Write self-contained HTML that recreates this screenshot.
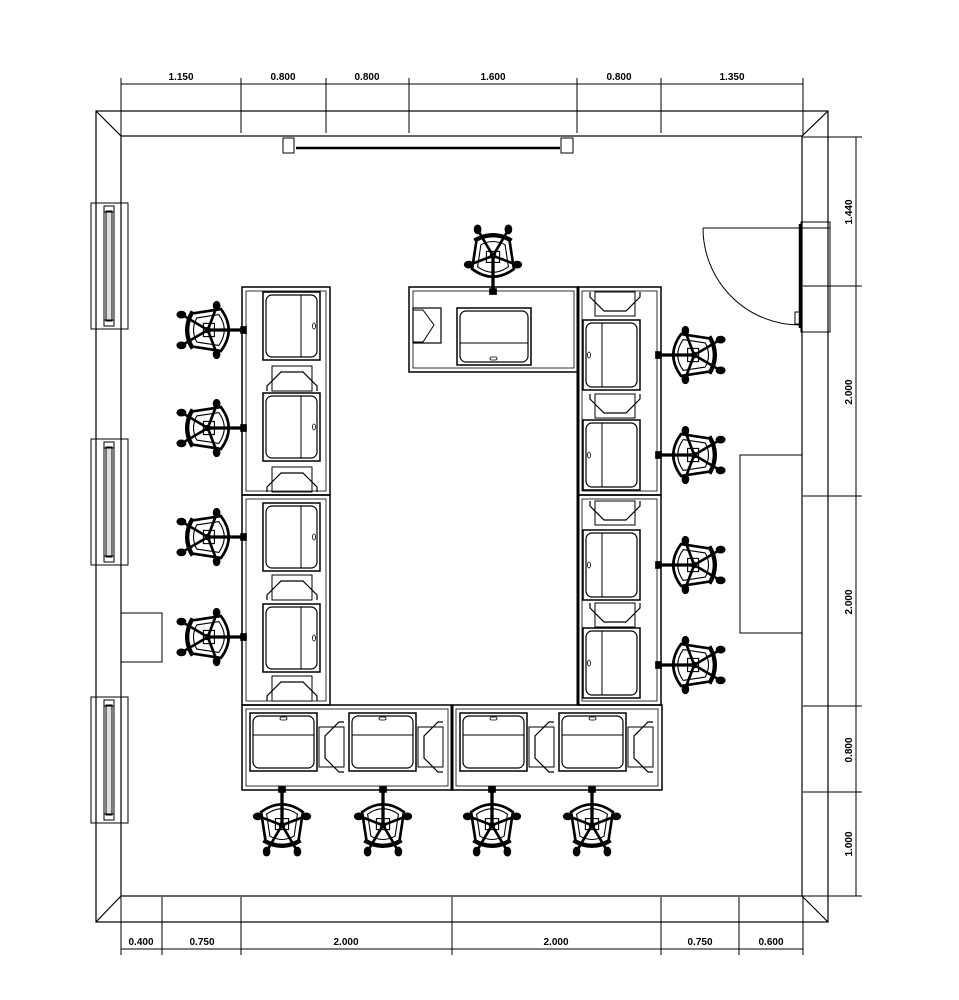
<!DOCTYPE html>
<html><head><meta charset="utf-8"><style>
html,body{margin:0;padding:0;background:#fff;}
svg{display:block;}
text{font-family:"Liberation Sans",sans-serif;font-size:10px;font-weight:bold;fill:#000;}
</style></head><body>
<svg width="959" height="1000" viewBox="0 0 959 1000" xmlns="http://www.w3.org/2000/svg">
<defs>
<g id="chair" stroke="#000" fill="none">
  <line x1="0" y1="-30" x2="0" y2="0" stroke-width="3"/>
  <rect x="-3" y="-33" width="6" height="5" fill="#000"/>
  <path d="M-19,-10 Q0,-24 19,-10 L15,16 Q0,24 -15,16 Z" stroke-width="2.4"/>
  <path d="M-14,-8 Q0,-18 14,-8 L11,12 Q0,18 -11,12 Z" stroke-width="1"/>
  <rect x="-6" y="-4" width="12" height="10" stroke-width="1"/>
  <path d="M-17,16 Q0,26 17,16" stroke-width="3.5"/>
  <g stroke-width="2.4" stroke-linecap="round">
    <line x1="0" y1="2" x2="-21" y2="-6"/><line x1="0" y1="2" x2="21" y2="-6"/>
    <line x1="0" y1="2" x2="-13" y2="24"/><line x1="0" y1="2" x2="13" y2="24"/>
  </g>
  <g fill="#000" stroke="none">
    <ellipse cx="-22" cy="-6" rx="4.5" ry="3.5"/><ellipse cx="22" cy="-6" rx="4.5" ry="3.5"/>
    <ellipse cx="-14" cy="26" rx="3.5" ry="4.5"/><ellipse cx="14" cy="26" rx="3.5" ry="4.5"/>
    <circle cx="0" cy="2" r="3"/>
  </g>
</g>
<g id="monV" stroke="#000" fill="none">
  <rect x="0" y="0" width="57" height="68" stroke-width="1.5"/>
  <rect x="3" y="3" width="51" height="62" rx="6" stroke-width="1.2"/>
  <line x1="38" y1="3" x2="38" y2="65" stroke-width="1"/>
  <ellipse cx="51" cy="34" rx="1.5" ry="3" stroke-width="0.8"/>
</g>
<g id="monVr" stroke="#000" fill="none">
  <rect x="0" y="0" width="57" height="70" stroke-width="1.5"/>
  <rect x="3" y="3" width="51" height="64" rx="6" stroke-width="1.2"/>
  <line x1="19" y1="3" x2="19" y2="67" stroke-width="1"/>
  <ellipse cx="6" cy="35" rx="1.5" ry="3" stroke-width="0.8"/>
</g>
<g id="monH" stroke="#000" fill="none">
  <rect x="0" y="0" width="67" height="58" stroke-width="1.5"/>
  <rect x="3" y="3" width="61" height="52" rx="6" stroke-width="1.2"/>
  <line x1="3" y1="22" x2="64" y2="22" stroke-width="1"/>
  <rect x="30" y="4" width="7" height="3" rx="1.5" stroke-width="0.8"/>
</g>
<g id="cpuV" stroke="#000" fill="none" stroke-width="1">
  <rect x="5" y="0" width="40" height="25"/>
  <path d="M0,25 L0,20 L14,6 L36,6 L50,20 L50,25" stroke-width="1.2"/>
</g>
<g id="cpuVd" stroke="#000" fill="none" stroke-width="1">
  <rect x="5" y="0" width="40" height="24"/>
  <path d="M0,0 L0,5 L14,19 L36,19 L50,5 L50,0" stroke-width="1.2"/>
</g>
<g id="cpuH" stroke="#000" fill="none" stroke-width="1">
  <rect x="0" y="5" width="25" height="40"/>
  <path d="M25,0 L20,0 L6,14 L6,36 L20,50 L25,50" stroke-width="1.2"/>
</g>
<g id="win" stroke="#000" fill="none">
  <rect x="0" y="0" width="37" height="126" stroke-width="1"/>
  <rect x="13" y="3" width="10" height="120" stroke-width="1"/>
  <rect x="15" y="8" width="6" height="110" stroke-width="1" fill="#ddd"/>
  <rect x="13" y="3" width="10" height="6" stroke-width="1"/>
  <rect x="13" y="117" width="10" height="6" stroke-width="1"/>
</g>
</defs>

<g stroke="#000" fill="none" stroke-width="1.2">
  <rect x="96" y="111" width="732" height="811"/>
  <rect x="121" y="136" width="681" height="760"/>
  <line x1="96" y1="111" x2="121" y2="136"/>
  <line x1="828" y1="111" x2="802" y2="136"/>
  <line x1="96" y1="922" x2="121" y2="896"/>
  <line x1="828" y1="922" x2="802" y2="896"/>
</g>

<g stroke="#000" stroke-width="1">
  <line x1="121" y1="84" x2="803" y2="84"/>
  <line x1="121" y1="78" x2="121" y2="136"/>
  <line x1="241" y1="78" x2="241" y2="133"/>
  <line x1="326" y1="78" x2="326" y2="133"/>
  <line x1="409" y1="78" x2="409" y2="133"/>
  <line x1="577" y1="78" x2="577" y2="133"/>
  <line x1="661" y1="78" x2="661" y2="133"/>
  <line x1="803" y1="78" x2="803" y2="136"/>
</g>
<text x="181" y="80" text-anchor="middle">1.150</text>
<text x="283" y="80" text-anchor="middle">0.800</text>
<text x="367" y="80" text-anchor="middle">0.800</text>
<text x="493" y="80" text-anchor="middle">1.600</text>
<text x="619" y="80" text-anchor="middle">0.800</text>
<text x="732" y="80" text-anchor="middle">1.350</text>

<g stroke="#000" stroke-width="1">
  <line x1="121" y1="949" x2="803" y2="949"/>
  <line x1="121" y1="897" x2="121" y2="955"/>
  <line x1="162" y1="897" x2="162" y2="955"/>
  <line x1="241" y1="897" x2="241" y2="955"/>
  <line x1="452" y1="897" x2="452" y2="955"/>
  <line x1="661" y1="897" x2="661" y2="955"/>
  <line x1="739" y1="897" x2="739" y2="955"/>
  <line x1="803" y1="897" x2="803" y2="955"/>
</g>
<text x="141" y="945" text-anchor="middle">0.400</text>
<text x="202" y="945" text-anchor="middle">0.750</text>
<text x="346" y="945" text-anchor="middle">2.000</text>
<text x="556" y="945" text-anchor="middle">2.000</text>
<text x="700" y="945" text-anchor="middle">0.750</text>
<text x="771" y="945" text-anchor="middle">0.600</text>

<g stroke="#000" stroke-width="1">
  <line x1="856" y1="137" x2="856" y2="896"/>
  <line x1="802" y1="137" x2="862" y2="137"/>
  <line x1="803" y1="286" x2="862" y2="286"/>
  <line x1="803" y1="496" x2="862" y2="496"/>
  <line x1="803" y1="706" x2="862" y2="706"/>
  <line x1="803" y1="792" x2="862" y2="792"/>
  <line x1="802" y1="896" x2="862" y2="896"/>
</g>
<text transform="translate(852,212) rotate(-90)" text-anchor="middle">1.440</text>
<text transform="translate(852,392) rotate(-90)" text-anchor="middle">2.000</text>
<text transform="translate(852,602) rotate(-90)" text-anchor="middle">2.000</text>
<text transform="translate(852,750) rotate(-90)" text-anchor="middle">0.800</text>
<text transform="translate(852,844) rotate(-90)" text-anchor="middle">1.000</text>

<g stroke="#000" fill="none" stroke-width="1">
  <rect x="283" y="138" width="11" height="15"/>
  <rect x="561" y="138" width="12" height="15"/>
  <line x1="296" y1="148" x2="560" y2="148" stroke-width="2.5"/>
</g>

<use href="#win" x="91" y="203"/>
<use href="#win" x="91" y="439"/>
<use href="#win" x="91" y="697"/>
<rect x="121" y="613" width="41" height="49" fill="none" stroke="#000" stroke-width="1"/>

<rect x="740" y="455" width="62" height="178" fill="none" stroke="#000" stroke-width="1"/>

<g stroke="#000" fill="none" stroke-width="1">
  <rect x="801" y="222" width="29" height="110"/>
  <line x1="801" y1="228" x2="830" y2="228"/>
  <line x1="800" y1="224" x2="800" y2="328" stroke-width="2.5"/>
  <line x1="703" y1="228" x2="800" y2="228"/>
  <path d="M703,228 A97,97 0 0 0 800,325"/>
  <rect x="795" y="312" width="7" height="12"/>
</g>

<g stroke="#000" fill="none">
  <rect x="242" y="287" width="88" height="208" stroke-width="1.5"/>
  <rect x="246" y="291" width="80" height="200" stroke-width="0.8"/>
  <rect x="242" y="495" width="88" height="210" stroke-width="1.5"/>
  <rect x="246" y="499" width="80" height="202" stroke-width="0.8"/>
  <rect x="578" y="287" width="83" height="208" stroke-width="1.5"/>
  <rect x="582" y="291" width="75" height="200" stroke-width="0.8"/>
  <rect x="578" y="495" width="83" height="210" stroke-width="1.5"/>
  <rect x="582" y="499" width="75" height="202" stroke-width="0.8"/>
  <line x1="578" y1="287" x2="578" y2="705" stroke-width="3"/>
  <rect x="242" y="705" width="210" height="85" stroke-width="1.5"/>
  <rect x="246" y="709" width="202" height="77" stroke-width="0.8"/>
  <rect x="452" y="705" width="210" height="85" stroke-width="1.5"/>
  <rect x="456" y="709" width="202" height="77" stroke-width="0.8"/>
  <line x1="452" y1="705" x2="452" y2="790" stroke-width="3"/>
  <rect x="409" y="287" width="169" height="85" stroke-width="1.5"/>
  <rect x="413" y="291" width="161" height="77" stroke-width="0.8"/>
</g>

<use href="#monV" x="263" y="292"/>
<use href="#cpuV" x="267" y="366"/>
<use href="#monV" x="263" y="393"/>
<use href="#cpuV" x="267" y="467"/>
<use href="#monV" x="263" y="503"/>
<use href="#cpuV" x="267" y="575"/>
<use href="#monV" x="263" y="604"/>
<use href="#cpuV" x="267" y="676"/>

<use href="#cpuVd" x="590" y="292"/>
<use href="#monVr" x="583" y="320"/>
<use href="#cpuVd" x="590" y="394"/>
<use href="#monVr" x="583" y="420"/>
<use href="#cpuVd" x="590" y="501"/>
<use href="#monVr" x="583" y="530"/>
<use href="#cpuVd" x="590" y="603"/>
<use href="#monVr" x="583" y="628"/>

<use href="#monH" x="250" y="713"/>
<use href="#cpuH" x="319" y="722"/>
<use href="#monH" x="349" y="713"/>
<use href="#cpuH" x="418" y="722"/>
<use href="#monH" x="460" y="713"/>
<use href="#cpuH" x="529" y="722"/>
<use href="#monH" x="559" y="713"/>
<use href="#cpuH" x="628" y="722"/>

<g stroke="#000" fill="none">
  <rect x="457" y="308" width="74" height="57" stroke-width="1.5"/>
  <rect x="460" y="311" width="68" height="51" rx="6" stroke-width="1.2"/>
  <line x1="460" y1="343" x2="528" y2="343"/>
  <rect x="490" y="357" width="7" height="3" rx="1.5" stroke-width="0.8"/>
  <rect x="413" y="308" width="28" height="35" stroke-width="1.2"/>
  <path d="M413,310 L423,310 L434,325 L423,342 L413,342" stroke-width="1"/>
</g>

<use href="#chair" transform="translate(210,330) rotate(90) scale(1.1)"/>
<use href="#chair" transform="translate(210,428) rotate(90) scale(1.1)"/>
<use href="#chair" transform="translate(210,537) rotate(90) scale(1.1)"/>
<use href="#chair" transform="translate(210,637) rotate(90) scale(1.1)"/>
<use href="#chair" transform="translate(692,355) rotate(-90) scale(1.1)"/>
<use href="#chair" transform="translate(692,455) rotate(-90) scale(1.1)"/>
<use href="#chair" transform="translate(692,565) rotate(-90) scale(1.1)"/>
<use href="#chair" transform="translate(692,665) rotate(-90) scale(1.1)"/>
<use href="#chair" transform="translate(282,823) scale(1.1)"/>
<use href="#chair" transform="translate(383,823) scale(1.1)"/>
<use href="#chair" transform="translate(492,823) scale(1.1)"/>
<use href="#chair" transform="translate(592,823) scale(1.1)"/>
<use href="#chair" transform="translate(493,258) rotate(180) scale(1.1)"/>
</svg>
</body></html>
